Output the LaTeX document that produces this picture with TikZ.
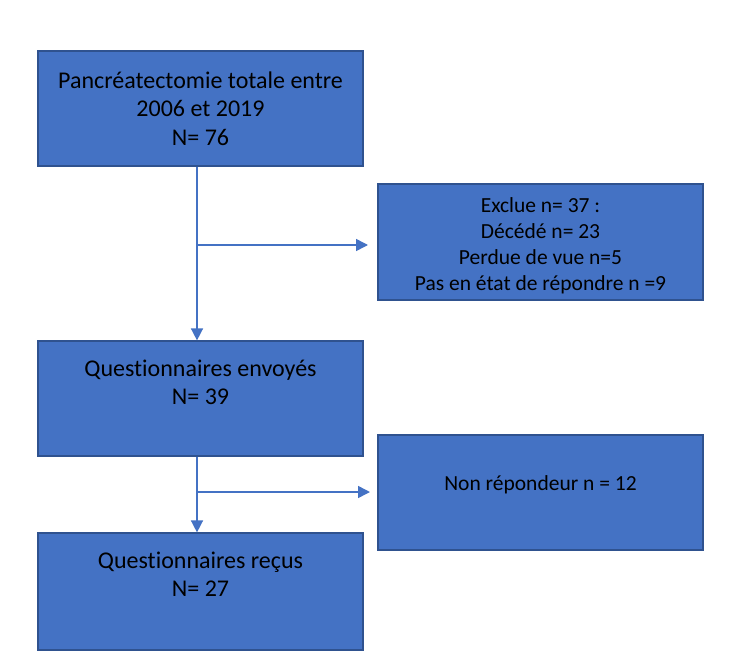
\documentclass[tikz,border=0pt]{standalone}
\usepackage{fontspec}
\setmainfont[Ligatures=NoCommon]{Carlito}
\usetikzlibrary{arrows.meta}
\definecolor{boxfill}{HTML}{4472C4}
\definecolor{boxline}{HTML}{2F528F}
\begin{document}
\begin{tikzpicture}[x=1pt,y=-1pt,
  box/.style={draw=boxline, line width=1.2pt, fill=boxfill, minimum width=325pt, inner sep=0pt, font=\fontsize{24}{28.3}\selectfont, align=center, text=black},
  lbl/.style={align=center, font=\fontsize{24}{28.3}\selectfont, text=black, inner sep=0pt},
  arr/.style={draw=boxfill, line width=1.5pt, -{Triangle[length=12pt,width=12pt]}}]
\useasboundingbox (0,0) rectangle (748,651);
\fill[white] (0,0) rectangle (748,651);
\node[box, minimum height=115pt] (b1) at (200.5,108.5) {Pancréatectomie totale entre\\2006 et 2019\\N= 76};
\node[box, minimum height=116pt] (b2) at (540.5,242) {};
\node[lbl, font=\fontsize{21.5}{26}\selectfont] (t2) at (540.5,245.5) {Exclue n= 37 :\\Décédé n= 23\\Perdue de vue n=5\\Pas en état de répondre n =9};
\node[box, minimum height=115pt, label={[lbl, name=t3, yshift=16pt]center:Questionnaires envoyés\\N= 39}] (b3) at (200.5,398.5) {};
\node[box, minimum height=115pt, label={[lbl, name=t4, yshift=7.5pt, font=\fontsize{21.5}{26}\selectfont]center:Non répondeur n = 12}] (b4) at (540.5,492.5) {};
\node[box, minimum height=117pt, label={[lbl, name=t5, yshift=17pt]center:Questionnaires reçus\\N= 27}] (b5) at (200.5,591.5) {};
\coordinate (tr) at (197,0);
\coordinate (e1) at (368,245);
\coordinate (e2) at (370,492);
\draw[arr] (b1.south -| tr) -- (b3.north -| tr);
\draw[arr] (tr |- e1) -- (e1);
\draw[arr] (b3.south -| tr) -- (b5.north -| tr);
\draw[arr] (tr |- e2) -- (e2);
\end{tikzpicture}
\end{document}
